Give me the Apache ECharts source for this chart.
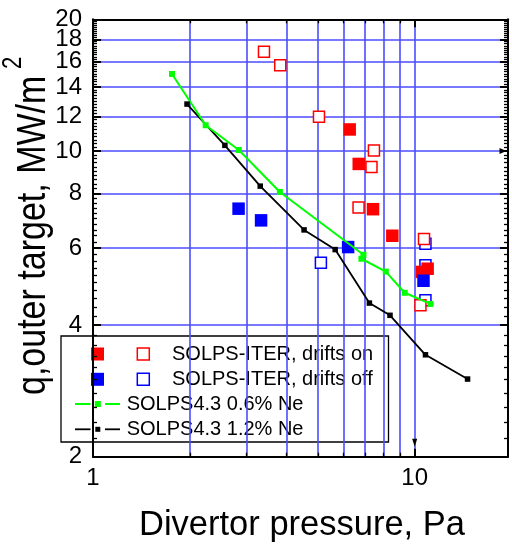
<!DOCTYPE html>
<html>
<head>
<meta charset="utf-8">
<script src="https://cdn.jsdelivr.net/npm/echarts@6/dist/echarts.min.js"></script>
<style>
  html, body { margin: 0; padding: 0; background: #fff; }
  #chart { width: 512px; height: 549px; }
</style>
</head>
<body>
<div id="chart"></div>
<script>
// SOLPS4.3 neon scans (connected lines)
const ne06Pressure = [1.76, 2.24, 2.84, 3.81, 6.93, 6.83, 8.13, 9.31, 11.2];
const ne06Heat     = [15.0, 11.45, 10.05, 8.06, 5.79, 5.67, 5.30, 4.74, 4.47];
const ne12Pressure = [1.96, 2.57, 3.31, 4.53, 5.66, 7.23, 8.38, 10.8, 14.6];
const ne12Heat     = [12.8, 10.3, 8.31, 6.6, 5.95, 4.49, 4.21, 3.42, 3.01];

// SOLPS-ITER cases with drifts on
const onFilledPressure = [6.28, 6.70, 7.42, 8.52, 10.54, 10.97];
const onFilledHeat     = [11.2, 9.34, 7.36, 6.4, 5.29, 5.38];
const onOpenPressure   = [3.40, 3.82, 5.04, 7.47, 7.34, 6.69, 10.69, 10.42];
const onOpenHeat       = [16.86, 15.7, 11.98, 10.03, 9.19, 7.43, 6.29, 4.44];

// SOLPS-ITER cases with drifts off
const offFilledPressure = [2.835, 3.33, 6.21, 10.65];
const offFilledHeat     = [7.38, 6.94, 6.03, 5.05];
const offOpenPressure   = [5.11, 10.8, 10.8, 10.8];
const offOpenHeat       = [5.55, 6.14, 5.48, 4.56];

// Axis ranges and tick values (pressure in Pa, heat flux in MW/m2)
const xRange = [1, 19.5];
const yRange = [2, 20];
const xLabelValues = [1, 10];
const xMajorTicks = [1, 10];
const xMinorTicks = [2, 3, 4, 5, 6, 7, 8, 9];
const xGridValues = [2, 3, 4, 5, 6, 7, 8, 9, 10];
// y labels alternate between two axes so close neighbours near the top all stay visible
const yLabelValuesA = [2, 6, 10, 14, 18];
const yLabelValuesB = [4, 8, 12, 16, 20];
const yMajorTicks = [2, 4, 6, 8, 10, 12, 14, 16, 18, 20];
const yGridValues = [4, 6, 8, 10, 12, 14, 16, 18];

// minor ticks every 0.2 between the even major values
const yMinorTicks = [];
for (let i = 11; i < 100; i++) {
  if (i % 10 !== 0) yMinorTicks.push(i / 5);
}

const lg = Math.log10;
const lgAll = arr => arr.map(v => lg(v));
const pairs = (xs, ys) => xs.map((x, i) => [lg(x), lg(ys[i])]);

const FONT = '"Liberation Sans", Arial, sans-serif';
const GRID_BLUE = '#4d4dff';

function xAxisDef(opts) {
  return Object.assign({
    type: 'value', gridIndex: 0, min: lg(xRange[0]), max: lg(xRange[1]),
    position: 'bottom',
    axisLine: { show: false, onZero: false },
    axisTick: { show: false },
    axisLabel: { show: false },
    splitLine: { show: false },
    axisPointer: { show: false }
  }, opts);
}
function yAxisDef(opts) {
  return Object.assign({
    type: 'value', gridIndex: 0, min: lg(yRange[0]), max: lg(yRange[1]),
    position: 'left',
    axisLine: { show: false, onZero: false },
    axisTick: { show: false },
    axisLabel: { show: false },
    splitLine: { show: false },
    axisPointer: { show: false }
  }, opts);
}

const frameLine = { show: true, onZero: false, lineStyle: { color: '#000', width: 2 } };
const minorTick = (vals) => ({ show: true, inside: true, length: 4, customValues: lgAll(vals), lineStyle: { color: '#000', width: 1.3 } });
const majorTick = (vals) => ({ show: true, inside: true, length: 8, customValues: lgAll(vals), lineStyle: { color: '#000', width: 2 } });
const gridTick = (vals) => ({ show: false, customValues: lgAll(vals) });
const gridLine = { show: true, lineStyle: { color: GRID_BLUE, width: 1.6 } };
const toValue = v => String(Math.round(Math.pow(10, v)));
const tickLabel = (vals, margin) => ({
  show: true, customValues: lgAll(vals), formatter: toValue,
  showMinLabel: true, showMaxLabel: true, hideOverlap: false,
  fontSize: 24, fontFamily: FONT, color: '#000', margin
});

const xAxes = [
  xAxisDef({ position: 'bottom', axisLine: frameLine, axisTick: minorTick(xMinorTicks),
    axisLabel: tickLabel(xLabelValues, 10) }),
  xAxisDef({ position: 'bottom', axisTick: majorTick(xMajorTicks) }),
  xAxisDef({ position: 'top', axisLine: frameLine, axisTick: minorTick(xMinorTicks) }),
  xAxisDef({ position: 'top', axisTick: majorTick(xMajorTicks) }),
  xAxisDef({ position: 'bottom', axisTick: gridTick(xGridValues), splitLine: gridLine })
];
const yAxes = [
  yAxisDef({ position: 'left', axisLine: frameLine, axisTick: minorTick(yMinorTicks),
    axisLabel: tickLabel(yLabelValuesA, 11) }),
  yAxisDef({ position: 'left', axisTick: majorTick(yMajorTicks),
    axisLabel: tickLabel(yLabelValuesB, 11) }),
  yAxisDef({ position: 'right', axisLine: frameLine, axisTick: minorTick(yMinorTicks) }),
  yAxisDef({ position: 'right', axisTick: majorTick(yMajorTicks) }),
  yAxisDef({ position: 'left', axisTick: gridTick(yGridValues), splitLine: gridLine })
];

function squares(name, xs, ys, color, filled) {
  return {
    name, type: 'scatter', xAxisIndex: 0, yAxisIndex: 0,
    data: pairs(xs, ys), symbol: 'rect',
    symbolSize: filled ? 12.5 : 11,
    itemStyle: filled ? { color, opacity: 1 } : { color: '#fff', borderColor: color, borderWidth: 1.5, opacity: 1 },
    silent: true
  };
}

const series = [
  squares('drifts off, open', offOpenPressure, offOpenHeat, '#0000ff', false),
  squares('drifts on, open', onOpenPressure, onOpenHeat, '#ff0000', false),
  squares('drifts on, filled', onFilledPressure, onFilledHeat, '#ff0000', true),
  squares('drifts off, filled', offFilledPressure, offFilledHeat, '#0000ff', true),
  {
    name: 'SOLPS4.3 1.2% Ne', type: 'line', data: pairs(ne12Pressure, ne12Heat),
    symbol: 'rect', symbolSize: 5.5, showAllSymbol: true,
    lineStyle: { color: '#000', width: 1.8 }, itemStyle: { color: '#000' },
    silent: true, clip: false,
    markPoint: {
      silent: true, label: { show: false }, itemStyle: { color: '#000' },
      data: [
        { coord: [lg(10), lg(yRange[0])], symbol: 'path://M0,0 L10,0 L5,16 Z', symbolKeepAspect: false,
          symbolSize: [5, 8], symbolOffset: [0, -14] },
        { coord: [lg(xRange[1]), lg(10)], symbol: 'path://M0,0 L16,5 L0,10 Z', symbolKeepAspect: false,
          symbolSize: [7, 6], symbolOffset: [-5, 0] }
      ]
    }
  },
  {
    name: 'SOLPS4.3 0.6% Ne', type: 'line', data: pairs(ne06Pressure, ne06Heat),
    symbol: 'rect', symbolSize: 6, showAllSymbol: true,
    lineStyle: { color: '#00ff00', width: 2 }, itemStyle: { color: '#00ff00' },
    silent: true, clip: false
  }
];

// Legend box drawn as graphics
const legendRows = [354, 379.3, 404, 429.3];
const legendText = (x, y, text) => ({
  type: 'text', x, y, silent: true,
  style: { text, fontSize: 20, fontFamily: FONT, fill: '#000', align: 'left', verticalAlign: 'middle' }
});
const legendSquare = (cx, cy, size, color, filled) => ({
  type: 'rect', silent: true,
  shape: { x: cx - size / 2, y: cy - size / 2, width: size, height: size },
  style: filled ? { fill: color } : { fill: '#fff', stroke: color, lineWidth: 1.5 }
});
const legendLine = (cy, color, mark, width) => ([
  { type: 'line', silent: true, shape: { x1: 75, y1: cy, x2: 90.5, y2: cy }, style: { stroke: color, lineWidth: width } },
  { type: 'line', silent: true, shape: { x1: 105, y1: cy, x2: 120, y2: cy }, style: { stroke: color, lineWidth: width } },
  legendSquare(97.8, cy, mark, color, true)
]);

const graphic = [
  {
    type: 'group', z: 100, silent: true,
    children: [
      { type: 'rect', shape: { x: 61, y: 336, width: 327.5, height: 106 },
        style: { fill: '#fff', stroke: '#000', lineWidth: 1.3 } },
      legendSquare(97.5, legendRows[0], 13, '#ff0000', true),
      legendSquare(143.3, legendRows[0], 12, '#ff0000', false),
      legendText(172, legendRows[0], 'SOLPS-ITER, drifts on'),
      legendSquare(97.5, legendRows[1], 13, '#0000ff', true),
      legendSquare(143.3, legendRows[1], 12, '#0000ff', false),
      legendText(172, legendRows[1], 'SOLPS-ITER, drifts off'),
      ...legendLine(legendRows[2], '#00ff00', 6, 2),
      legendText(126.7, legendRows[2], 'SOLPS4.3 0.6% Ne'),
      ...legendLine(legendRows[3], '#000', 5, 1.8),
      legendText(126.7, legendRows[3], 'SOLPS4.3 1.2% Ne')
    ]
  },
  // axis titles
  {
    type: 'text', x: 302, y: 525, silent: true,
    style: { text: 'Divertor pressure, Pa', fontSize: 34.5, fontFamily: FONT, fill: '#000', align: 'center', verticalAlign: 'middle' }
  },
  {
    type: 'text', x: 34, y: 395, rotation: Math.PI / 2, scaleY: 1.22, silent: true,
    style: { text: 'q,outer target, MW/m', fontSize: 34, fontFamily: FONT, fill: '#000', align: 'left', verticalAlign: 'middle' }
  },
  {
    type: 'text', x: 14, y: 69, rotation: Math.PI / 2, scaleY: 1.22, silent: true,
    style: { text: '2', fontSize: 22, fontFamily: FONT, fill: '#000', align: 'left', verticalAlign: 'middle' }
  }
];

const chart = echarts.init(document.getElementById('chart'), null, { renderer: 'canvas' });
chart.setOption({
  animation: false,
  backgroundColor: '#fff',
  grid: { left: 93, right: 4, top: 19.3, bottom: 92.3, containLabel: false },
  xAxis: xAxes,
  yAxis: yAxes,
  series,
  graphic
});
</script>
</body>
</html>
